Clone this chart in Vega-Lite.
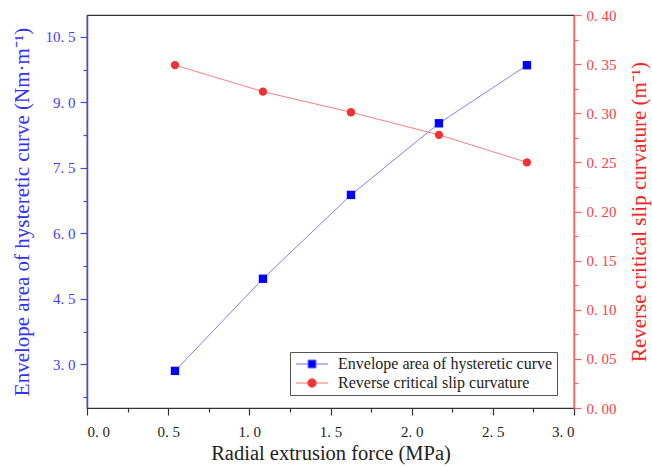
{
  "$schema": "https://vega.github.io/schema/vega-lite/v6.json",
  "width": 487,
  "height": 393,
  "autosize": "none",
  "padding": {"left": 87, "top": 15, "right": 78, "bottom": 60},
  "background": "white",
  "config": {
    "view": {"stroke": "#333333", "strokeWidth": 1.2},
    "font": "Liberation Serif",
    "axis": {"labelFont": "Liberation Serif", "titleFont": "Liberation Serif", "grid": false, "labelOverlap": false}
  },
  "data": {
    "values": [
      {"force": 0.542, "series": "Envelope area of hysteretic curve", "value": 2.85},
      {"force": 1.084, "series": "Envelope area of hysteretic curve", "value": 4.96},
      {"force": 1.626, "series": "Envelope area of hysteretic curve", "value": 6.88},
      {"force": 2.168, "series": "Envelope area of hysteretic curve", "value": 8.52},
      {"force": 2.71, "series": "Envelope area of hysteretic curve", "value": 9.85},
      {"force": 0.542, "series": "Reverse critical slip curvature", "value": 0.349},
      {"force": 1.084, "series": "Reverse critical slip curvature", "value": 0.322},
      {"force": 1.626, "series": "Reverse critical slip curvature", "value": 0.301},
      {"force": 2.168, "series": "Reverse critical slip curvature", "value": 0.278},
      {"force": 2.71, "series": "Reverse critical slip curvature", "value": 0.25}
    ]
  },
  "encoding": {
    "x": {
      "field": "force", "type": "quantitative",
      "scale": {"domain": [0, 3], "nice": false},
      "axis": {
        "title": "Radial extrusion force (MPa)",
        "titleFont": "Liberation Serif", "titleFontSize": 20.5, "titleFontWeight": "normal", "titleColor": "#222222", "titlePadding": 4,
        "values": [0, 0.25, 0.5, 0.75, 1, 1.25, 1.5, 1.75, 2, 2.25, 2.5, 2.75, 3],
        "labelExpr": "abs(datum.value*2 - round(datum.value*2)) < 0.001 ? replace(format(datum.value, '.1f'), '.', '. ') : ''",
        "labelFont": "Liberation Serif", "labelFontSize": 15, "labelColor": "#222222", "labelPadding": 9,
        "domainColor": "#333333", "domainWidth": 1.2,
        "tickColor": "#333333", "tickWidth": 1.2,
        "tickSize": {"condition": {"test": "abs(datum.value*2 - round(datum.value*2)) < 0.001", "value": 7}, "value": 4}
      }
    }
  },
  "layer": [
    {
      "transform": [{"filter": "datum.series == 'Envelope area of hysteretic curve'"}],
      "encoding": {
        "y": {
          "field": "value", "type": "quantitative",
          "scale": {"domain": [2, 11], "nice": false, "zero": false},
          "axis": {
            "orient": "left",
            "title": "Envelope area of hysteretic curve (Nm·m⁻¹)",
            "titleFont": "Liberation Serif", "titleFontSize": 21, "titleFontWeight": "normal", "titleColor": "#3333ff", "titlePadding": 13,
            "values": [2.25, 3, 3.75, 4.5, 5.25, 6, 6.75, 7.5, 8.25, 9, 9.75, 10.5],
            "labelExpr": "abs(datum.value/1.5 - round(datum.value/1.5)) < 0.001 ? replace(format(datum.value, '.1f'), '.', '. ') : ''",
            "labelFont": "Liberation Serif", "labelFontSize": 15, "labelColor": "#4040ff", "labelPadding": 5,
            "domainColor": "#4444ff", "domainWidth": 1.5,
            "tickColor": "#4444ff", "tickWidth": 1.2,
            "tickSize": {"condition": {"test": "abs(datum.value/1.5 - round(datum.value/1.5)) < 0.001", "value": 7}, "value": 4}
          }
        }
      },
      "layer": [
        {"mark": {"type": "line", "color": "#8080ff", "strokeWidth": 1}, "encoding": {}},
        {"mark": {"type": "point", "filled": true, "size": 70, "opacity": 1, "shape": "square", "color": "#0000ff"}, "encoding": {}}
      ]
    },
    {
      "transform": [{"filter": "datum.series == 'Reverse critical slip curvature'"}],
      "encoding": {
        "y": {
          "field": "value", "type": "quantitative",
          "scale": {"domain": [0, 0.4], "nice": false},
          "axis": {
            "orient": "right",
            "title": "Reverse critical slip curvature (m⁻¹)",
            "titleAngle": 270, "titleBaseline": "top",
            "titleFont": "Liberation Serif", "titleFontSize": 21, "titleFontWeight": "normal", "titleColor": "#ff2020", "titlePadding": 12,
            "values": [0, 0.025, 0.05, 0.075, 0.1, 0.125, 0.15, 0.175, 0.2, 0.225, 0.25, 0.275, 0.3, 0.325, 0.35, 0.375, 0.4],
            "labelExpr": "abs(datum.value*20 - round(datum.value*20)) < 0.001 ? replace(format(datum.value, '.2f'), '.', '. ') : ''",
            "labelFont": "Liberation Serif", "labelFontSize": 15, "labelColor": "#ff4040", "labelPadding": 5,
            "domainColor": "#ff6666", "domainWidth": 1.5,
            "tickColor": "#ff6666", "tickWidth": 1.2,
            "tickSize": {"condition": {"test": "abs(datum.value*20 - round(datum.value*20)) < 0.001", "value": 7}, "value": 4}
          }
        }
      },
      "layer": [
        {"mark": {"type": "line", "color": "#ff8080", "strokeWidth": 1}, "encoding": {}},
        {"mark": {"type": "point", "filled": true, "size": 70, "opacity": 1, "shape": "circle", "color": "#ee3333"}, "encoding": {}}
      ]
    },
    {
      "mark": {"type": "point", "size": 0, "strokeWidth": 1, "opacity": 1},
      "encoding": {
        "fill": {
          "field": "series", "type": "nominal",
          "scale": {"domain": ["Envelope area of hysteretic curve", "Reverse critical slip curvature"], "range": ["#0000ff", "#ee3333"]},
          "legend": {
            "title": null, "orient": "none", "legendX": 203, "legendY": 337,
            "strokeColor": "#555555", "padding": 4,
            "labelFont": "Liberation Serif", "labelFontSize": 16, "labelColor": "#222222", "labelLimit": 400,
            "symbolSize": 64, "symbolStrokeWidth": 1, "symbolOpacity": 1, "symbolOffset": 10, "labelOffset": 18, "rowPadding": 3
          }
        },
        "stroke": {
          "field": "series", "type": "nominal",
          "scale": {"domain": ["Envelope area of hysteretic curve", "Reverse critical slip curvature"], "range": ["#7070ff", "#ff7070"]},
          "legend": {
            "title": null, "orient": "none", "legendX": 203, "legendY": 337,
            "strokeColor": "#555555", "padding": 4,
            "labelFont": "Liberation Serif", "labelFontSize": 16, "labelColor": "#222222", "labelLimit": 400,
            "symbolSize": 64, "symbolStrokeWidth": 1, "symbolOpacity": 1, "symbolOffset": 10, "labelOffset": 18, "rowPadding": 3
          }
        },
        "shape": {
          "field": "series", "type": "nominal",
          "scale": {"domain": ["Envelope area of hysteretic curve", "Reverse critical slip curvature"], "range": ["M-4,0H-1M1,0H4M-1,-1H1V1H-1Z", "M-4,0H-1.1M1.1,0H4M-1.1,0A1.1,1.1 0 1,0 1.1,0A1.1,1.1 0 1,0 -1.1,0Z"]},
          "legend": {
            "title": null, "orient": "none", "legendX": 203, "legendY": 337,
            "strokeColor": "#555555", "padding": 4,
            "labelFont": "Liberation Serif", "labelFontSize": 16, "labelColor": "#222222", "labelLimit": 400,
            "symbolSize": 64, "symbolStrokeWidth": 1, "symbolOpacity": 1, "symbolOffset": 10, "labelOffset": 18, "rowPadding": 3
          }
        }
      }
    }
  ],
  "resolve": {"scale": {"y": "independent"}}
}
